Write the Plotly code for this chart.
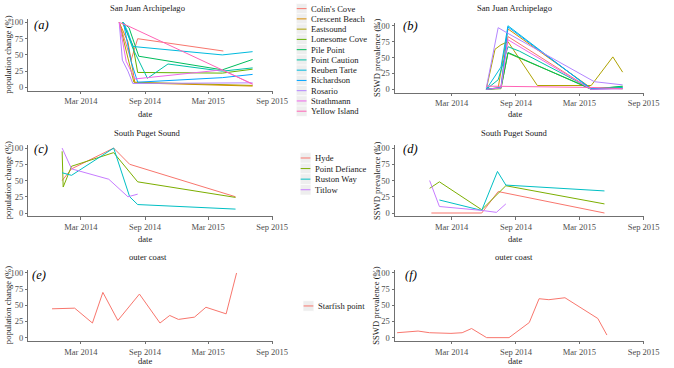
import plotly.graph_objects as go

W, H = 674, 368
FONT = "Liberation Serif"
AXC = "#707070"
TICKC = "#4D4D4D"

# ---------------- data ----------------
sj_sites = ["Colin's Cove", "Crescent Beach", "Eastsound", "Lonesome Cove", "Pile Point",
            "Point Caution", "Reuben Tarte", "Richardson", "Rosario", "Strathmann", "Yellow Island"]
sj_colors = ["#F8766D", "#DB8E00", "#AEA200", "#64B200", "#00BD5C", "#00C1A7",
             "#00BADE", "#00A5FF", "#B385FF", "#EF67EB", "#FF63B6"]

sps_sites = ["Hyde", "Point Defiance", "Ruston Way", "Titlow"]
sps_colors = ["#F8766D", "#7CAE00", "#00BFC4", "#C77CFF"]

oc_sites = ["Starfish point"]
oc_colors = ["#F8766D"]

# (a) San Juan Archipelago - population change (%)
a_dates = [
    ["2014-06-19", "2014-07-23", "2014-08-11", "2015-04-14"],
    ["2014-06-19", "2014-07-14", "2014-08-03", "2015-07-07"],
    ["2014-06-19", "2014-07-09", "2014-07-31", "2015-07-07"],
    ["2014-06-28", "2014-07-28", "2014-08-11", "2015-04-11", "2015-07-07"],
    ["2014-06-28", "2014-07-17", "2014-08-14", "2015-04-11", "2015-07-07"],
    ["2014-07-01", "2014-07-28", "2014-09-08", "2014-11-06", "2015-04-11", "2015-07-07"],
    ["2014-07-01", "2014-07-14", "2014-07-28", "2015-04-11", "2015-07-07"],
    ["2014-07-01", "2014-07-23", "2014-08-11", "2015-04-11", "2015-07-07"],
    ["2014-06-19", "2014-06-28", "2014-07-14", "2014-07-28", "2015-07-07"],
    ["2014-06-19", "2014-07-09", "2014-08-03", "2015-04-11", "2015-07-07"],
    ["2014-06-19", "2014-07-17", "2015-07-07"],
]
a_values = [
    [100, 42, 75, 56],
    [100, 70, 7, 2],
    [100, 55, 8, 3],
    [100, 65, 23, 22, 28],
    [100, 92, 48, 27, 43],
    [100, 60, 14, 36, 25, 30],
    [100, 85, 63, 50, 55],
    [100, 40, 8, 15, 20],
    [100, 42, 25, 6, 7],
    [100, 40, 13, 27, 5],
    [100, 94, 5],
]

# (b) San Juan Archipelago - SSWD prevalence (%)
b_dates = [
    ["2014-06-08", "2014-07-20", "2014-08-09", "2015-04-04"],
    ["2014-06-08", "2014-07-12", "2014-08-09", "2015-04-04", "2015-07-03"],
    ["2014-06-08", "2014-07-03", "2014-07-20", "2014-08-09", "2014-11-01", "2015-04-04", "2015-06-05", "2015-07-03"],
    ["2014-06-08", "2014-07-20", "2014-08-09", "2015-04-04", "2015-07-03"],
    ["2014-06-08", "2014-07-20", "2014-08-09", "2015-04-04", "2015-07-03"],
    ["2014-06-08", "2014-07-12", "2014-08-09", "2014-09-11", "2015-04-04", "2015-07-03"],
    ["2014-06-08", "2014-07-03", "2014-07-20", "2014-08-09", "2015-04-04", "2015-07-03"],
    ["2014-06-08", "2014-07-20", "2014-08-09", "2015-04-04", "2015-07-03"],
    ["2014-06-08", "2014-07-12", "2014-08-09", "2015-04-13", "2015-07-03"],
    ["2014-06-08", "2014-07-20", "2014-08-09", "2015-04-04", "2015-07-03"],
    ["2014-06-08", "2015-04-04", "2015-07-03"],
]
b_values = [
    [0, 3, 83, 0],
    [0, 2, 95, 2, 1],
    [0, 63, 70, 75, 6, 6, 51, 27],
    [0, 1, 57, 1, 4],
    [0, 2, 58, 0, 5],
    [0, 15, 67, 60, 1, 3],
    [0, 20, 35, 100, 0, 2],
    [0, 3, 98, 1, 1],
    [2, 97, 88, 12, 7],
    [0, 2, 78, 0, 1],
    [5, 3, 1],
]

# (c) South Puget Sound - population change (%)
c_dates = [
    ["2014-01-06", "2014-02-02", "2014-06-03", "2014-07-19", "2015-05-19"],
    ["2014-01-06", "2014-01-09", "2014-02-02", "2014-06-03", "2014-08-11", "2015-05-19"],
    ["2014-01-06", "2014-02-02", "2014-06-03", "2014-07-19", "2014-08-11", "2015-05-19"],
    ["2014-01-06", "2014-02-02", "2014-05-20", "2014-07-14", "2014-08-11"],
]
c_values = [
    [50, 68, 100, 75, 25],
    [95, 40, 72, 93, 48, 24],
    [62, 58, 100, 25, 13, 6],
    [100, 68, 52, 25, 29],
]

# (d) South Puget Sound - SSWD prevalence (%)
d_dates = [
    ["2014-01-02", "2014-05-26", "2014-07-12", "2015-05-12"],
    ["2013-12-28", "2014-01-25", "2014-05-26", "2014-08-03", "2015-05-12"],
    ["2014-01-25", "2014-05-26", "2014-07-10", "2014-08-03", "2015-05-12"],
    ["2013-12-28", "2014-01-25", "2014-05-26", "2014-07-07", "2014-08-03"],
]
d_values = [
    [0, 0, 33, 0],
    [38, 48, 5, 42, 14],
    [20, 4, 64, 43, 34],
    [50, 10, 4, 1, 14],
]

# (e) outer coast - population change (%)
e_dates = [["2013-12-08", "2014-01-14", "2014-02-11", "2014-04-03", "2014-05-03", "2014-06-15",
            "2014-08-16", "2014-10-14", "2014-11-11", "2014-12-06", "2015-01-21", "2015-02-23",
            "2015-04-22", "2015-05-22"]]
e_values = [[44.6, 44.6, 45.6, 22.6, 70, 26.6, 67.4, 22.6, 34.3, 28.2, 31.7, 47, 36.8, 100]]

# (f) outer coast - SSWD prevalence (%)
f_dates = [["2013-09-26", "2013-10-28", "2013-11-25", "2013-12-28", "2014-02-27", "2014-03-31",
            "2014-04-27", "2014-06-09", "2014-08-12", "2014-10-09", "2014-11-06", "2014-12-04",
            "2015-01-19", "2015-04-23", "2015-05-19"]]
f_values = [[7.6, 9.2, 10.2, 7.6, 6.6, 7.6, 14.1, 0, 0, 23.4, 60.2, 58.7, 61.7, 29.6, 4]]

x_tick_vals = ["2014-03-01", "2014-09-01", "2015-03-01", "2015-09-01"]
x_tick_text = ["Mar 2014", "Sep 2014", "Mar 2015", "Sep 2015"]
y_tick_vals = [0, 25, 50, 75, 100]
y_tick_text = ["0", "25", "50", "75", "100"]

panel_titles = ["San Juan Archipelago", "San Juan Archipelago", "South Puget Sound",
                "South Puget Sound", "outer coast", "outer coast"]
panel_tags = ["(a)", "(b)", "(c)", "(d)", "(e)", "(f)"]
y_titles = ["population change (%)", "SSWD prevalence (%)"] * 3

# ---------------- layout geometry (pixels) ----------------
left_x = (29, 279)
right_x = (404, 659)
left_range = ["2013-10-01", "2015-09-03"]
right_range = ["2013-09-20", "2015-09-03"]
rows_y = [(17.4, 89.6), (20.8, 91.5), (144.4, 216.6), (144.4, 216.6), (270.7, 342.6), (270.7, 342.6)]

panels = [
    (a_dates, a_values, sj_colors),
    (b_dates, b_values, sj_colors),
    (c_dates, c_values, sps_colors),
    (d_dates, d_values, sps_colors),
    (e_dates, e_values, oc_colors),
    (f_dates, f_values, oc_colors),
]


def px(x):
    return x / W


def py(y):
    return 1 - y / H


fig = go.Figure()
layout = dict(
    width=W, height=H, margin=dict(l=0, r=0, t=0, b=0),
    paper_bgcolor="white", plot_bgcolor="white", showlegend=False,
    font=dict(family=FONT, size=8.5, color="#000000"),
)

annotations = []
shapes = []

for k, (dates, values, colors) in enumerate(panels):
    idx = k + 1
    xname = "x" if idx == 1 else f"x{idx}"
    yname = "y" if idx == 1 else f"y{idx}"
    for d, v, c in zip(dates, values, colors):
        fig.add_trace(go.Scatter(x=d, y=v, mode="lines", xaxis=xname, yaxis=yname,
                                 line=dict(color=c, width=1), hoverinfo="skip"))
    left = (k % 2 == 0)
    xd = left_x if left else right_x
    yd = rows_y[k]
    layout["xaxis" if idx == 1 else f"xaxis{idx}"] = dict(
        domain=[px(xd[0]), px(xd[1])], type="date",
        range=left_range if left else right_range, anchor=yname,
        showline=True, linecolor=AXC, linewidth=1, showgrid=False, zeroline=False,
        ticks="outside", ticklen=2.5, tickcolor=AXC, tickwidth=1,
        tickvals=x_tick_vals, ticktext=x_tick_text,
        tickfont=dict(family=FONT, size=8.5, color=TICKC),
    )
    layout["yaxis" if idx == 1 else f"yaxis{idx}"] = dict(
        domain=[py(yd[1]), py(yd[0])], range=[-5, 105], anchor=xname,
        showline=True, linecolor=AXC, linewidth=1, showgrid=False, zeroline=False,
        ticks="outside", ticklen=2.5, tickcolor=AXC, tickwidth=1,
        tickvals=y_tick_vals, ticktext=y_tick_text,
        tickfont=dict(family=FONT, size=8.5, color=TICKC),
    )
    # titles
    row_top = [6, 6, 132, 132, 257.7, 257.7][k]
    date_y = [113, 113, 240, 240, 362.5, 362.5][k]
    tcx = 151 if left else 526
    dcx = 148 if left else 527
    annotations.append(dict(text=panel_titles[k], x=px(tcx), y=py(row_top), xref="paper", yref="paper",
                            showarrow=False, xanchor="center", yanchor="middle",
                            font=dict(family=FONT, size=8.6, color="#1A1A1A")))
    annotations.append(dict(text="date", x=px(dcx), y=py(date_y), xref="paper", yref="paper",
                            showarrow=False, xanchor="center", yanchor="middle",
                            font=dict(family=FONT, size=8.6, color="#1A1A1A")))
    ytx = 8 if left else 385
    annotations.append(dict(text=y_titles[k], x=px(ytx), y=py((yd[0] + yd[1]) / 2), xref="paper",
                            yref="paper", showarrow=False, textangle=-90, xanchor="center",
                            yanchor="middle", font=dict(family=FONT, size=8.6, color="#1A1A1A")))
    tagx = [42.5, 420, 41.7, 419.5, 40, 420][k]
    tagy = [23.3, 24, 149, 149, 275.7, 275.7][k]
    annotations.append(dict(text="<i>" + panel_tags[k] + "</i>", x=px(tagx), y=py(tagy), xref="paper",
                            yref="paper", showarrow=False, xanchor="center", yanchor="middle",
                            font=dict(family=FONT, size=12.5, color="#000000")))

# ---------------- manual legends ----------------
legends = [
    (sj_sites, sj_colors, 303, 6.7, 10.37),
    (sps_sites, sps_colors, 307, 157.7, 10.7),
    (oc_sites, oc_colors, 310, 307.3, 10.5),
]
for names, colors, kx, y0, step in legends:
    for i, (n, c) in enumerate(zip(names, colors)):
        yc = y0 + step * i
        shapes.append(dict(type="rect", xref="paper", yref="paper",
                           x0=px(kx), x1=px(kx + 11), y0=py(yc + step / 2), y1=py(yc - step / 2),
                           fillcolor="#EEEEEE", line=dict(color="white", width=0.6), layer="below"))
        shapes.append(dict(type="line", xref="paper", yref="paper",
                           x0=px(kx + 0.5), x1=px(kx + 10.5), y0=py(yc), y1=py(yc),
                           line=dict(color=c, width=1)))
        annotations.append(dict(text=n, x=px(kx + 13.5), y=py(yc), xref="paper", yref="paper",
                                showarrow=False, xanchor="left", yanchor="middle",
                                font=dict(family=FONT, size=8.6, color="#1A1A1A")))

layout["annotations"] = annotations
layout["shapes"] = shapes
fig.update_layout(**layout)
fig.write_html("out.html", config={"displayModeBar": False},
               post_script="document.body.style.margin='0';document.body.style.padding='0';")
